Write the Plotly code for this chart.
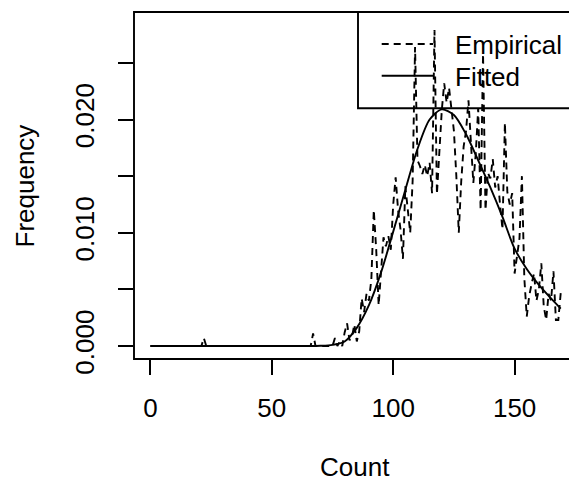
import plotly.graph_objects as go

# ---- data ----
counts = list(range(0, 170))

empirical = [0.0] * 170
emp_nonzero = {
    22: 0.0007, 67: 0.0011, 76: 0.0007, 78: 0.0004, 80: 0.0012, 81: 0.0020,
    82: 0.0005, 83: 0.0008, 84: 0.0019, 85: 0.0004, 86: 0.0013, 87: 0.0042,
    88: 0.0030, 89: 0.0046, 90: 0.0040, 91: 0.0059, 92: 0.0120, 93: 0.0085,
    94: 0.0036, 95: 0.0070, 96: 0.0096, 97: 0.0088, 98: 0.0097, 99: 0.0085,
    100: 0.0125, 101: 0.0149, 102: 0.0120, 103: 0.0103, 104: 0.0077,
    105: 0.0141, 106: 0.0120, 107: 0.0100, 108: 0.0146, 109: 0.0264,
    110: 0.0164, 111: 0.0159, 112: 0.0152, 113: 0.0160, 114: 0.0150,
    115: 0.0162, 116: 0.0135, 117: 0.0279, 118: 0.0134, 119: 0.0173,
    120: 0.0208, 121: 0.0232, 122: 0.0215, 123: 0.0228, 124: 0.0211,
    125: 0.0190, 126: 0.0150, 127: 0.0100, 128: 0.0145, 129: 0.0176,
    130: 0.0190, 131: 0.0217, 132: 0.0180, 133: 0.0144, 134: 0.0170,
    135: 0.0210, 136: 0.0120, 137: 0.0258, 138: 0.0120, 139: 0.0153,
    140: 0.0148, 141: 0.0165, 142: 0.0140, 143: 0.0150, 144: 0.0125,
    145: 0.0103, 146: 0.0197, 147: 0.0136, 148: 0.0125, 149: 0.0135,
    150: 0.0064, 151: 0.0080, 152: 0.0095, 153: 0.0150, 154: 0.0060,
    155: 0.0026, 156: 0.0044, 157: 0.0055, 158: 0.0064, 159: 0.0040,
    160: 0.0050, 161: 0.0073, 162: 0.0035, 163: 0.0023, 164: 0.0046,
    165: 0.0040, 166: 0.0066, 167: 0.0023, 168: 0.0023, 169: 0.0047,
}
for k, v in emp_nonzero.items():
    empirical[k] = v

fit_x = [0, 10, 20, 30, 40, 50, 60, 65, 70, 75, 80, 85, 90, 95, 100, 105,
         110, 115, 120, 125, 130, 135, 140, 145, 150, 155, 160, 165, 169]
fit_y = [0, 0, 0, 0, 0, 0, 0, 0, 0.00002, 0.0001, 0.0004, 0.0016, 0.0036,
         0.0065, 0.0101, 0.0138, 0.0174, 0.0200, 0.0209, 0.0204, 0.0187,
         0.0164, 0.0140, 0.0114, 0.0086, 0.0068, 0.0054, 0.0042, 0.0033]

x_ticks = [0, 50, 100, 150]
y_ticks = [0.000, 0.005, 0.010, 0.015, 0.020, 0.025]
y_tick_text = ["0.000", "", "0.010", "", "0.020", ""]
legend_labels = ["Empirical", "Fitted"]

FONT = "Liberation Sans, Arial, Helvetica, sans-serif"
FS = 26
LW = 1.9
DASH = "7px,5px"

fig = go.Figure()
fig.add_trace(go.Scatter(x=counts, y=empirical, mode="lines",
                         line=dict(color="black", width=LW, dash=DASH),
                         showlegend=False, hoverinfo="skip"))
fig.add_trace(go.Scatter(x=fit_x, y=fit_y, mode="lines",
                         line=dict(color="black", width=LW, shape="spline",
                                   smoothing=0.8),
                         showlegend=False, hoverinfo="skip"))

W, H = 569, 482
L, R_, T, B = 134, 0, 12, 123
pw, ph = W - L - R_, H - T - B


def px(xp):
    return (xp - L) / pw


def py(yp):
    return (H - B - yp) / ph


shapes = [
    # plot box (right edge falls outside the picture)
    dict(type="rect", xref="paper", yref="paper", x0=0, x1=1.1, y0=0, y1=1,
         line=dict(color="black", width=LW), layer="above"),
    # legend box
    dict(type="rect", xref="paper", yref="paper", x0=px(358), x1=1.1,
         y0=py(108.3), y1=1, line=dict(color="black", width=LW)),
    dict(type="line", xref="paper", yref="paper", x0=px(381.7), x1=px(433),
         y0=py(44), y1=py(44),
         line=dict(color="black", width=LW, dash=DASH)),
    dict(type="line", xref="paper", yref="paper", x0=px(381.7), x1=px(433),
         y0=py(75.7), y1=py(75.7), line=dict(color="black", width=LW)),
]

annotations = [
    dict(text=legend_labels[0], xref="paper", yref="paper", x=px(453), y=py(45),
         xanchor="left", yanchor="middle", showarrow=False,
         font=dict(family=FONT, size=FS, color="black")),
    dict(text=legend_labels[1], xref="paper", yref="paper", x=px(453), y=py(77),
         xanchor="left", yanchor="middle", showarrow=False,
         font=dict(family=FONT, size=FS, color="black")),
    dict(text="Count", xref="paper", yref="paper", x=px(355), y=py(467),
         xanchor="center", yanchor="middle", showarrow=False,
         font=dict(family=FONT, size=FS, color="black")),
    dict(text="Frequency", xref="paper", yref="paper", x=px(24), y=0.5,
         xanchor="center", yanchor="middle", textangle=-90, showarrow=False,
         font=dict(family=FONT, size=FS, color="black")),
]

fig.update_layout(
    width=W, height=H,
    margin=dict(l=L, r=R_, t=T, b=B, pad=0),
    paper_bgcolor="white", plot_bgcolor="white",
    shapes=shapes, annotations=annotations,
    font=dict(family=FONT, size=FS, color="black"),
    xaxis=dict(range=[-6.76, 172.4], tickvals=x_ticks,
               ticktext=[str(v) for v in x_ticks],
               ticks="outside", ticklen=15, tickwidth=LW, tickcolor="black",
               showgrid=False, zeroline=False, showline=False,
               ticklabelstandoff=11,
               tickfont=dict(family=FONT, size=FS, color="black")),
    yaxis=dict(range=[-0.00115, 0.0295], tickvals=y_ticks,
               ticktext=y_tick_text, tickangle=-90,
               ticks="outside", ticklen=15, tickwidth=LW, tickcolor="black",
               showgrid=False, zeroline=False, showline=False,
               ticklabelstandoff=14,
               tickfont=dict(family=FONT, size=FS, color="black")),
)

fig.write_html(
    "out.html",
    config={"displayModeBar": False},
    post_script="document.body.style.margin='0';document.body.style.padding='0';",
)
